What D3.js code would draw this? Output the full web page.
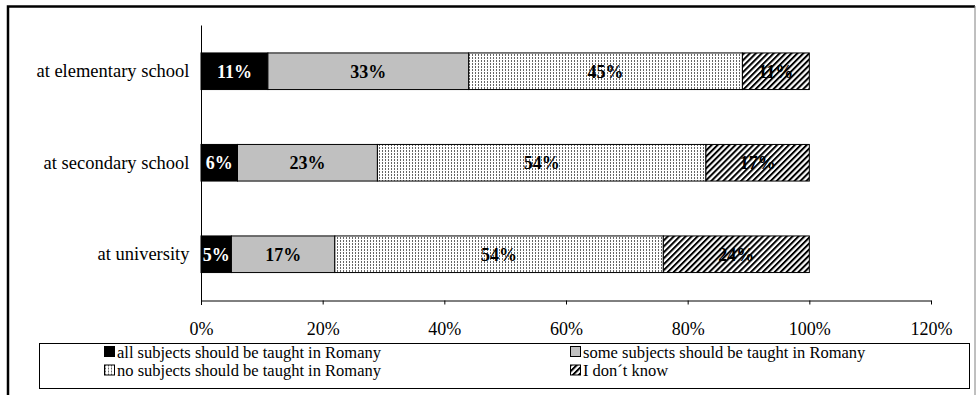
<!DOCTYPE html>
<html>
<head>
<meta charset="utf-8">
<script src="https://cdn.jsdelivr.net/npm/d3@7"></script>
<style>
  body { margin: 0; background: #fff; }
  svg { display: block; font-family: "Liberation Serif", "Times New Roman", serif; }
</style>
</head>
<body>
<div id="chart"></div>
<script>
// Data
var categories = ["at elementary school", "at secondary school", "at university"];
var seriesNames = [
    "all subjects should be taught in Romany",
    "some subjects should be taught in Romany",
    "no subjects should be taught in Romany",
    "I don\u00b4t know"
];
var allSubjects = [11, 6, 5];
var someSubjects = [33, 23, 17];
var noSubjects = [45, 54, 54];
var dontKnow = [11, 17, 24];
var xTicks = [0, 20, 40, 60, 80, 100, 120];

var seriesValues = [allSubjects, someSubjects, noSubjects, dontKnow];

var width = 976, height = 395;
var margin = { top: 25.5, left: 201, right: 45, bottom: 95 };

var svg = d3.select("#chart")
    .append("svg")
    .attr("width", width)
    .attr("height", height);

// patterns
var defs = svg.append("defs");
var dots = defs.append("pattern")
    .attr("id", "dots")
    .attr("patternUnits", "userSpaceOnUse")
    .attr("width", 3).attr("height", 3);
dots.append("rect").attr("width", 3).attr("height", 3).attr("fill", "#fff");
dots.append("rect").attr("x", 1).attr("y", 0).attr("width", 1).attr("height", 2).attr("fill", "#666");

var hatch = defs.append("pattern")
    .attr("id", "hatch")
    .attr("patternUnits", "userSpaceOnUse")
    .attr("width", 4.2).attr("height", 4.2)
    .attr("patternTransform", "rotate(45)");
hatch.append("rect").attr("width", 4.2).attr("height", 4.2).attr("fill", "#fff");
hatch.append("rect").attr("x", 0).attr("y", 0).attr("width", 2).attr("height", 4.2).attr("fill", "#000");

var fills = ["#000", "#c0c0c0", "url(#dots)", "url(#hatch)"];
var labelColors = ["#fff", "#000", "#000", "#000"];

// outer frame
svg.append("path")
    .attr("d", "M8,395 V6.5 H975")
    .attr("fill", "none")
    .attr("stroke", "#000")
    .attr("stroke-width", 2.5);
svg.append("line")
    .attr("x1", 975).attr("x2", 975).attr("y1", 6).attr("y2", 395)
    .attr("stroke", "#808080").attr("stroke-width", 1);

// scales
var x = d3.scaleLinear()
    .domain([0, 120])
    .range([201, 931]);

var y = d3.scaleBand()
    .domain(categories)
    .range([margin.top, 300])
    .paddingInner(0.6)
    .paddingOuter(0.3);

// stacked data
var rows = categories.map(function (c, i) {
    var r = { cat: c };
    seriesValues.forEach(function (s, j) { r["s" + j] = s[i]; });
    return r;
});
var stack = d3.stack().keys(seriesValues.map(function (s, j) { return "s" + j; }));
var stacked = stack(rows);

var layers = svg.selectAll("g.layer")
    .data(stacked)
    .enter()
    .append("g")
    .attr("class", "layer");

layers.selectAll("rect")
    .data(function (d, j) { return d.map(function (p) { return { p: p, j: j }; }); })
    .enter()
    .append("rect")
    .attr("x", function (d) { return x(d.p[0]); })
    .attr("y", function (d) { return y(d.p.data.cat); })
    .attr("width", function (d) { return x(d.p[1]) - x(d.p[0]); })
    .attr("height", y.bandwidth())
    .attr("fill", function (d) { return fills[d.j]; })
    .attr("stroke", "#000")
    .attr("stroke-width", 1);

layers.selectAll("text")
    .data(function (d, j) { return d.map(function (p) { return { p: p, j: j }; }); })
    .enter()
    .append("text")
    .attr("x", function (d) { return (x(d.p[0]) + x(d.p[1])) / 2; })
    .attr("y", function (d) { return y(d.p.data.cat) + y.bandwidth() / 2; })
    .attr("dy", "0.36em")
    .attr("text-anchor", "middle")
    .attr("font-weight", "bold")
    .attr("font-size", "18px")
    .attr("fill", function (d) { return labelColors[d.j]; })
    .text(function (d) { return (d.p[1] - d.p[0]) + "%"; });

// x axis
var xAxis = svg.append("g")
    .attr("transform", "translate(0,300.5)")
    .call(d3.axisBottom(x)
        .tickValues(xTicks)
        .tickSize(4)
        .tickSizeOuter(0)
        .tickFormat(function (d) { return d + "%"; }));
xAxis.select(".domain").attr("stroke", "#000");
xAxis.selectAll(".tick text")
    .attr("font-family", "Liberation Serif, serif")
    .attr("font-size", "18px")
    .attr("fill", "#000")
    .attr("y", 22);

// y axis
var yAxis = svg.append("g")
    .attr("transform", "translate(201.5,0)")
    .call(d3.axisLeft(y).tickSize(0).tickPadding(12));
yAxis.select(".domain").attr("stroke", "#000").attr("d", "M0," + margin.top + "V305");
yAxis.selectAll(".tick text")
    .attr("font-family", "Liberation Serif, serif")
    .attr("font-size", "18.5px")
    .attr("fill", "#000");

// legend
var legend = svg.append("g");
legend.append("rect")
    .attr("x", 39.5).attr("y", 343.5)
    .attr("width", 930).attr("height", 45)
    .attr("fill", "#fff")
    .attr("stroke", "#000")
    .attr("stroke-width", 1);

var legendPos = [[104, 352], [570, 352], [104, 370.5], [570, 370.5]];
seriesNames.forEach(function (name, j) {
    var g = legend.append("g")
        .attr("transform", "translate(" + legendPos[j][0] + "," + legendPos[j][1] + ")");
    g.append("rect")
        .attr("x", 0.5).attr("y", -5.5)
        .attr("width", 10).attr("height", 10)
        .attr("fill", fills[j])
        .attr("stroke", "#000")
        .attr("stroke-width", 1);
    g.append("text")
        .attr("x", 13)
        .attr("y", 0)
        .attr("dy", "0.35em")
        .attr("font-size", "16.5px")
        .text(name);
});
</script>
</body>
</html>
